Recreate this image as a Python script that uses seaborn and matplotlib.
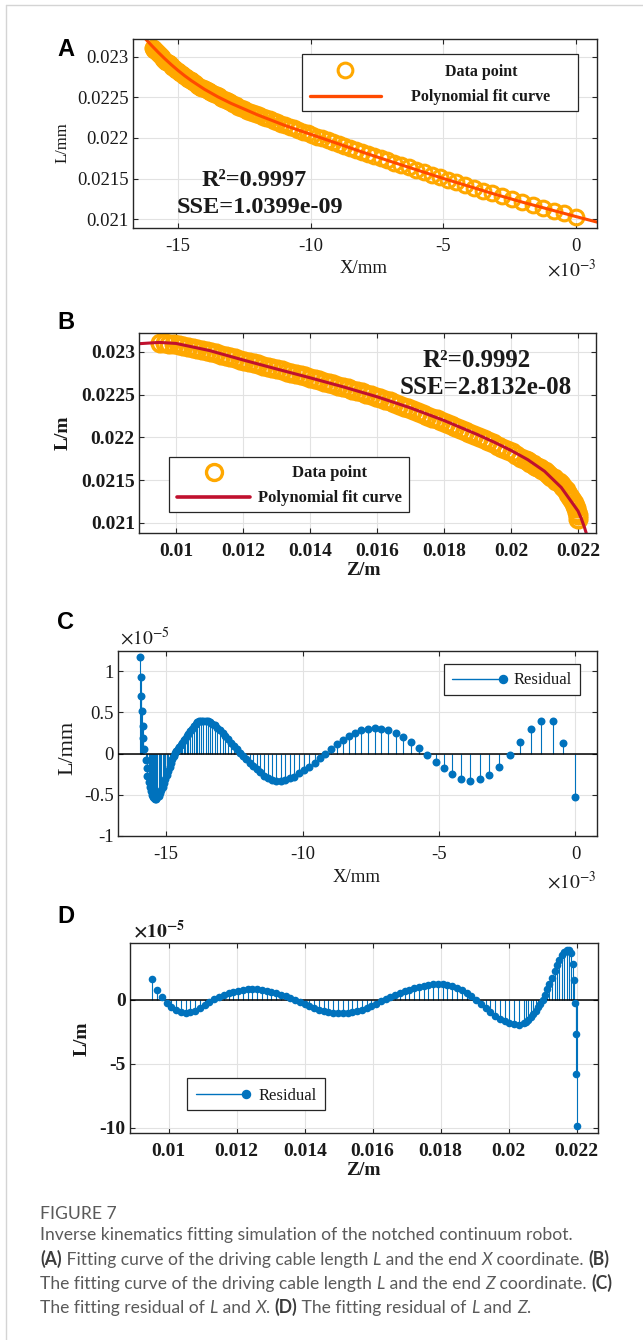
import matplotlib
matplotlib.use("Agg")
import matplotlib.pyplot as plt
from matplotlib.patches import Rectangle
from matplotlib.lines import Line2D
import seaborn as sns

sns.set_style("ticks")
plt.rcParams["font.family"] = ["Liberation Serif", "DejaVu Serif"]
plt.rcParams["mathtext.fontset"] = "stix"

# ---------------- data (X in 1e-3, residuals in 1e-5) ----------------
x_mm = [-15.95, -15.93, -15.91, -15.89, -15.86, -15.83, -15.79, -15.75, -15.71, -15.68,
        -15.64, -15.60, -15.56, -15.52, -15.48, -15.44, -15.40, -15.36, -15.32, -15.27,
        -15.22, -15.17, -15.12, -15.07, -15.02, -14.97, -14.92, -14.87, -14.82, -14.77,
        -14.72, -14.67, -14.62, -14.57, -14.52, -14.47, -14.42, -14.36, -14.30, -14.24,
        -14.18, -14.12, -14.06, -13.99, -13.92, -13.85, -13.78, -13.71, -13.63, -13.55,
        -13.47, -13.39, -13.30, -13.21, -13.12, -13.03, -12.93, -12.83, -12.73, -12.63,
        -12.52, -12.41, -12.30, -12.18, -12.06, -11.94, -11.81, -11.68, -11.54, -11.40,
        -11.26, -11.11, -10.96, -10.80, -10.64, -10.47, -10.30, -10.12, -9.94, -9.75,
        -9.56, -9.36, -9.16, -8.95, -8.74, -8.52, -8.30, -8.07, -7.84, -7.60,
        -7.36, -7.11, -6.86, -6.59, -6.31, -6.03, -5.73, -5.43, -5.12, -4.82,
        -4.51, -4.18, -3.85, -3.51, -3.15, -2.79, -2.41, -2.02, -1.64, -1.25,
        -0.84, -0.44, 0.00]
L_x = [0.023113, 0.023106, 0.023099, 0.023092, 0.023082, 0.023072, 0.023059, 0.023045, 0.023031, 0.023021,
       0.023008, 0.022994, 0.022980, 0.022967, 0.022954, 0.022943, 0.022932, 0.022921, 0.022910, 0.022896,
       0.022882, 0.022868, 0.022854, 0.022840, 0.022826, 0.022813, 0.022802, 0.022790, 0.022779, 0.022767,
       0.022756, 0.022744, 0.022733, 0.022721, 0.022710, 0.022698, 0.022687, 0.022673, 0.022659, 0.022645,
       0.022631, 0.022621, 0.022611, 0.022599, 0.022588, 0.022576, 0.022564, 0.022553, 0.022539, 0.022526,
       0.022513, 0.022499, 0.022484, 0.022469, 0.022454, 0.022439, 0.022422, 0.022405, 0.022388, 0.022372,
       0.022353, 0.022339, 0.022325, 0.022310, 0.022295, 0.022280, 0.022264, 0.022248, 0.022230, 0.022213,
       0.022195, 0.022176, 0.022155, 0.022137, 0.022119, 0.022100, 0.022080, 0.022059, 0.022039, 0.022017,
       0.021996, 0.021973, 0.021951, 0.021927, 0.021904, 0.021879, 0.021854, 0.021829, 0.021803, 0.021776,
       0.021750, 0.021724, 0.021697, 0.021668, 0.021639, 0.021609, 0.021577, 0.021546, 0.021513, 0.021482,
       0.021451, 0.021418, 0.021385, 0.021351, 0.021315, 0.021279, 0.021242, 0.021208, 0.021174, 0.021140,
       0.021104, 0.021069, 0.021030]
res_x = [1.17, 0.93, 0.70, 0.52, 0.33, 0.19, 0.06, -0.08, -0.18, -0.27,
         -0.35, -0.41, -0.46, -0.50, -0.53, -0.54, -0.55, -0.55, -0.53, -0.51,
         -0.48, -0.44, -0.40, -0.36, -0.31, -0.26, -0.21, -0.16, -0.11, -0.07,
         -0.03, 0.01, 0.03, 0.05, 0.08, 0.10, 0.13, 0.16, 0.18, 0.21,
         0.24, 0.27, 0.30, 0.33, 0.36, 0.38, 0.39, 0.40, 0.40, 0.40,
         0.39, 0.38, 0.36, 0.34, 0.31, 0.28, 0.25, 0.21, 0.17, 0.13,
         0.09, 0.05, 0.01, -0.03, -0.07, -0.11, -0.15, -0.19, -0.23, -0.27,
         -0.30, -0.32, -0.33, -0.33, -0.32, -0.30, -0.28, -0.24, -0.20, -0.16,
         -0.11, -0.06, -0.01, 0.05, 0.11, 0.16, 0.21, 0.25, 0.28, 0.30,
         0.31, 0.30, 0.28, 0.25, 0.20, 0.14, 0.07, -0.02, -0.10, -0.18,
         -0.25, -0.31, -0.33, -0.31, -0.26, -0.16, -0.02, 0.14, 0.30, 0.40,
         0.39, 0.13, -0.53]
fit_x = [-16.22, -16.0, -15.75, -15.5, -15.25, -15.0, -14.75, -14.5, -14.0, -13.5,
         -13.0, -12.0, -11.0, -10.0, -9.0, -8.0, -7.0, -6.0, -5.0, -4.0,
         -3.0, -2.0, -1.0, 0.0, 0.79]
fit_Lx = [0.023220, 0.023142, 0.023058, 0.022978, 0.022903, 0.022833, 0.022768, 0.022708, 0.022600, 0.022508,
          0.022427, 0.022285, 0.022158, 0.022045, 0.021933, 0.021820, 0.021712, 0.021606, 0.021500, 0.021400,
          0.021300, 0.021206, 0.021118, 0.021030, 0.020962]

z_m = [0.00952, 0.00966, 0.00980, 0.00994, 0.01008, 0.01022, 0.01036, 0.01050, 0.01064, 0.01078,
       0.01092, 0.01106, 0.01120, 0.01134, 0.01148, 0.01162, 0.01176, 0.01190, 0.01204, 0.01218,
       0.01232, 0.01246, 0.01260, 0.01274, 0.01288, 0.01302, 0.01316, 0.01330, 0.01344, 0.01358,
       0.01372, 0.01386, 0.01400, 0.01414, 0.01428, 0.01442, 0.01456, 0.01470, 0.01484, 0.01498,
       0.01512, 0.01526, 0.01540, 0.01554, 0.01568, 0.01582, 0.01596, 0.01610, 0.01624, 0.01638,
       0.01652, 0.01666, 0.01680, 0.01694, 0.01708, 0.01722, 0.01736, 0.01750, 0.01764, 0.01778,
       0.01792, 0.01806, 0.01820, 0.01834, 0.01848, 0.01862, 0.01876, 0.01890, 0.01904, 0.01918,
       0.01932, 0.01946, 0.01960, 0.01974, 0.01988, 0.02002, 0.02016, 0.02030, 0.02044, 0.02051,
       0.02058, 0.02065, 0.02072, 0.02079, 0.02086, 0.02093, 0.02100, 0.02107, 0.02114, 0.02120,
       0.02127, 0.02135, 0.02142, 0.02149, 0.02156, 0.02163, 0.02171, 0.02177, 0.02183, 0.02188,
       0.02192, 0.02194, 0.02197, 0.02199, 0.02200]
L_z = [0.023100, 0.023098, 0.023094, 0.023088, 0.023080, 0.023070, 0.023059, 0.023047, 0.023034, 0.023020,
       0.023008, 0.022995, 0.022981, 0.022967, 0.022953, 0.022938, 0.022924, 0.022910, 0.022896, 0.022882,
       0.022868, 0.022854, 0.022840, 0.022826, 0.022812, 0.022798, 0.022784, 0.022770, 0.022756, 0.022742,
       0.022727, 0.022712, 0.022697, 0.022682, 0.022667, 0.022652, 0.022637, 0.022621, 0.022606, 0.022590,
       0.022574, 0.022558, 0.022542, 0.022526, 0.022510, 0.022493, 0.022476, 0.022459, 0.022440, 0.022420,
       0.022400, 0.022380, 0.022360, 0.022339, 0.022318, 0.022297, 0.022275, 0.022254, 0.022232, 0.022210,
       0.022188, 0.022166, 0.022143, 0.022120, 0.022097, 0.022074, 0.022051, 0.022027, 0.022003, 0.021979,
       0.021954, 0.021929, 0.021904, 0.021878, 0.021853, 0.021826, 0.021794, 0.021764, 0.021735, 0.021720,
       0.021703, 0.021686, 0.021670, 0.021653, 0.021637, 0.021621, 0.021605, 0.021582, 0.021561, 0.021542,
       0.021521, 0.021495, 0.021474, 0.021450, 0.021417, 0.021382, 0.021339, 0.021306, 0.021271, 0.021234,
       0.021200, 0.021171, 0.021130, 0.021088, 0.021042]
res_z = [1.63, 0.80, 0.20, -0.25, -0.58, -0.82, -0.96, -1.00, -0.96, -0.84,
         -0.65, -0.41, -0.13, 0.08, 0.24, 0.39, 0.52, 0.64, 0.73, 0.80,
         0.83, 0.84, 0.82, 0.78, 0.71, 0.63, 0.53, 0.41, 0.29, 0.15,
         0.01, -0.16, -0.33, -0.49, -0.64, -0.76, -0.87, -0.96, -1.01, -1.05,
         -1.05, -1.02, -0.96, -0.87, -0.76, -0.62, -0.46, -0.29, -0.12, 0.06,
         0.22, 0.38, 0.53, 0.68, 0.81, 0.93, 1.03, 1.12, 1.18, 1.22,
         1.25, 1.24, 1.19, 1.09, 0.94, 0.75, 0.53, 0.28, 0.02, -0.31,
         -0.64, -0.95, -1.22, -1.46, -1.66, -1.80, -1.89, -1.92, -1.83, -1.71,
         -1.55, -1.36, -1.13, -0.87, -0.59, -0.30, 0.00, 0.40, 0.85, 1.25,
         1.75, 2.30, 2.75, 3.15, 3.50, 3.75, 3.90, 3.88, 3.68, 2.82,
         1.58, -0.21, -2.66, -5.79, -9.82]
fit_z = [0.00890, 0.00950, 0.01000, 0.01100, 0.01200, 0.01300, 0.01400, 0.01500, 0.01600, 0.01700,
         0.01800, 0.01900, 0.01950, 0.02000, 0.02050, 0.02100, 0.02150, 0.02200, 0.02210, 0.02220,
         0.02230]
fit_Lz = [0.023095, 0.023110, 0.023098, 0.023015, 0.022905, 0.022800, 0.022697, 0.022590, 0.022475, 0.022345,
          0.022198, 0.022033, 0.021944, 0.021848, 0.021740, 0.021605, 0.021415, 0.021140, 0.021050, 0.020940,
          0.020810]

x_ticks = [-15, -10, -5, 0]
x_labels = ["-15", "-10", "-5", "0"]
z_ticks = [0.010, 0.012, 0.014, 0.016, 0.018, 0.020, 0.022]
z_labels = ["0.01", "0.012", "0.014", "0.016", "0.018", "0.02", "0.022"]
L_ticks = [0.021, 0.0215, 0.022, 0.0225, 0.023]
L_labels = ["0.021", "0.0215", "0.022", "0.0225", "0.023"]
rx_ticks = [-1, -0.5, 0, 0.5, 1]
rx_labels = ["-1", "-0.5", "0", "0.5", "1"]
rz_ticks = [-10, -5, 0]
rz_labels = ["-10", "-5", "0"]

# ---------------- layout helpers (pixel coordinates) ----------------
W, H = 643, 1340
fig = plt.figure(figsize=(W / 100, H / 100), dpi=100)
fig.set_facecolor("white")

INK = "#1a1a1a"
ORANGE = "#FFA800"
BLUE = "#0072BD"


def axes_at(l, t, r, b):
    return fig.add_axes([l / W, 1 - b / H, (r - l) / W, (b - t) / H])


def ftext(x, y, s, **kw):
    kw.setdefault("color", INK)
    return fig.text(x / W, 1 - y / H, s, **kw)


def style(ax, xt, xl, yt, yl, bold, size):
    w = "bold" if bold else "normal"
    ax.set_xticks(xt, xl, fontweight=w, fontsize=size, color=INK)
    ax.set_yticks(yt, yl, fontweight=w, fontsize=size, color=INK)
    ax.grid(True, color="#e2e2e2", linewidth=0.8)
    ax.set_axisbelow(True)
    ax.tick_params(direction="in", length=3.5, width=0.8, top=True, right=True, color="#262626")
    ax.tick_params(axis="x", pad=7)
    ax.tick_params(axis="y", pad=3)
    for sp in ax.spines.values():
        sp.set_visible(True)
        sp.set_color("#262626")
        sp.set_linewidth(1.0)
    ax.set_xlabel("")
    ax.set_ylabel("")


def legend_box(l, t, r, b):
    fig.add_artist(Rectangle((l / W, 1 - b / H), (r - l) / W, (b - t) / H, transform=fig.transFigure,
                             facecolor="white", edgecolor="#262626", linewidth=0.9, zorder=5))


def legend_line(x0, x1, y, **kw):
    fig.add_artist(Line2D([x0 / W, x1 / W], [1 - y / H, 1 - y / H], transform=fig.transFigure, zorder=6, **kw))


def legend_marker(x, y, **kw):
    fig.add_artist(Line2D([x / W], [1 - y / H], transform=fig.transFigure, linestyle="", zorder=6, **kw))


# ---------------- A ----------------
ax = axes_at(133, 39, 597, 228)
sns.lineplot(x=x_mm, y=L_x, ax=ax, sort=False, estimator=None, linestyle="", marker="o",
             markersize=10.6, markerfacecolor="none", markeredgecolor=ORANGE, markeredgewidth=2.2, legend=False)
sns.lineplot(x=fit_x, y=fit_Lx, ax=ax, sort=False, estimator=None, color="#FF4A00", linewidth=2.2, legend=False)
style(ax, x_ticks, x_labels, L_ticks, L_labels, False, 13.5)
ax.set_xlim(-16.70, 0.79)
ax.set_ylim(0.020889, 0.023222)
ftext(63, 143, "L/mm", rotation=90, ha="center", va="center", fontsize=12)
ftext(364, 273, "X/mm", ha="center", va="baseline", fontsize=13.5)
ftext(596, 277, r"$\times10^{-3}$", ha="right", va="baseline", fontsize=14)
ftext(254, 186, "R²=0.9997", ha="center", va="baseline", fontsize=17.5, fontweight="bold")
ftext(260, 213, "SSE=1.0399e-09", ha="center", va="baseline", fontsize=17.5, fontweight="bold")
legend_box(302, 54, 578, 111)
legend_marker(345, 70, marker="o", markersize=10.6, markerfacecolor="none", markeredgecolor=ORANGE, markeredgewidth=2.2)
legend_line(310, 381, 96, color="#FF4A00", linewidth=2.4)
ftext(481, 76, "Data point", ha="center", va="baseline", fontsize=11.5, fontweight="bold", zorder=7)
ftext(481, 101, "Polynomial fit curve", ha="center", va="baseline", fontsize=11.5, fontweight="bold", zorder=7)

# ---------------- B ----------------
ax = axes_at(139, 333, 596, 533)
sns.lineplot(x=z_m, y=L_z, ax=ax, sort=False, estimator=None, linestyle="", marker="o",
             markersize=12, markerfacecolor="none", markeredgecolor=ORANGE, markeredgewidth=2.5, legend=False)
sns.lineplot(x=fit_z, y=fit_Lz, ax=ax, sort=False, estimator=None, color="#C0102E", linewidth=2.2, legend=False)
style(ax, z_ticks, z_labels, L_ticks, L_labels, True, 14)
ax.set_xlim(0.008896, 0.022537)
ax.set_ylim(0.020883, 0.02322)
ftext(63, 433, "L/m", rotation=90, ha="center", va="center", fontsize=14, fontweight="bold")
ftext(363, 575, "Z/m", ha="center", va="baseline", fontsize=14, fontweight="bold")
ftext(477, 367, "R²=0.9992", ha="center", va="baseline", fontsize=18, fontweight="bold")
ftext(486, 394, "SSE=2.8132e-08", ha="center", va="baseline", fontsize=18, fontweight="bold")
legend_box(169, 457, 409, 512)
legend_marker(214, 472, marker="o", markersize=11.5, markerfacecolor="none", markeredgecolor=ORANGE, markeredgewidth=2.4)
legend_line(177, 250, 497, color="#C0102E", linewidth=2.6)
ftext(329, 477, "Data point", ha="center", va="baseline", fontsize=12, fontweight="bold", zorder=7)
ftext(330, 502, "Polynomial fit curve", ha="center", va="baseline", fontsize=12, fontweight="bold", zorder=7)

# ---------------- C ----------------
ax = axes_at(118, 651, 597, 836)
ax.vlines(x_mm, 0, res_x, color=BLUE, linewidth=0.8, zorder=2)
ax.axhline(0, color="black", linewidth=1.1, zorder=3)
sns.scatterplot(x=x_mm, y=res_x, ax=ax, s=33, color=BLUE, linewidth=0, zorder=4, legend=False)
style(ax, x_ticks, x_labels, rx_ticks, rx_labels, False, 13.5)
ax.set_xlim(-16.76, 0.79)
ax.set_ylim(-1.0, 1.243)
ftext(68, 748, "L/mm", rotation=90, ha="center", va="center", fontsize=16)
ftext(357, 882, "X/mm", ha="center", va="baseline", fontsize=13.5)
ftext(596, 889, r"$\times10^{-3}$", ha="right", va="baseline", fontsize=14)
ftext(120, 645, r"$\times10^{-5}$", ha="left", va="baseline", fontsize=14)
legend_box(444, 664, 580, 695)
legend_line(452, 503, 679, color=BLUE, linewidth=1.0)
legend_marker(503, 679, marker="o", markersize=5.8, color=BLUE)
ftext(514, 684, "Residual", ha="left", va="baseline", fontsize=12, zorder=7)

# ---------------- D ----------------
ax = axes_at(130, 943, 598, 1133)
ax.vlines(z_m, 0, res_z, color=BLUE, linewidth=0.8, zorder=2)
ax.axhline(0, color="black", linewidth=1.1, zorder=3)
sns.scatterplot(x=z_m, y=res_z, ax=ax, s=30, color=BLUE, linewidth=0, zorder=4, legend=False)
style(ax, z_ticks, z_labels, rz_ticks, rz_labels, True, 14)
ax.set_xlim(0.008862, 0.022627)
ax.set_ylim(-10.4, 4.45)
ftext(82, 1039, "L/m", rotation=90, ha="center", va="center", fontsize=14, fontweight="bold")
ftext(363, 1175, "Z/m", ha="center", va="baseline", fontsize=14, fontweight="bold")
ftext(133, 937, r"$\mathbf{\times 10^{-5}}$", ha="left", va="baseline", fontsize=14)
legend_box(187, 1078, 325, 1110)
legend_line(196, 246, 1094, color=BLUE, linewidth=1.0)
legend_marker(246, 1094, marker="o", markersize=5.8, color=BLUE)
ftext(259, 1100, "Residual", ha="left", va="baseline", fontsize=12, zorder=7)

# ---------------- panel letters ----------------
for letter, top in [("A", 38), ("B", 311), ("C", 611), ("D", 905)]:
    ftext(57, top, letter, ha="left", va="top", fontsize=17, fontweight="bold", family="Liberation Sans",
          color="black")

# ---------------- caption ----------------
CAP = "Lato"
renderer = fig.canvas.get_renderer()


def cap_kw(style_, size):
    return dict(fontsize=size, family=CAP,
                fontweight="bold" if style_ == "b" else "normal",
                fontstyle="italic" if style_ == "i" else "normal",
                color="#3c3c3c" if style_ == "b" else "#5a5a5a")


def run_width(s, kw):
    t1 = fig.text(0, 0, "|" + s + "|", **kw)
    t2 = fig.text(0, 0, "||", **kw)
    w = t1.get_window_extent(renderer).width - t2.get_window_extent(renderer).width
    t1.remove()
    t2.remove()
    return w


caption = [
    (1219, [("FIGURE 7", "n")]),
    (1240, [("Inverse kinematics fitting simulation of the notched continuum robot.", "n")]),
    (1265, [("(A)", "b"), (" Fitting curve of the driving cable length ", "n"), ("L", "i"),
            (" and the end ", "n"), ("X", "i"), (" coordinate. ", "n"), ("(B)", "b")]),
    (1289, [("The fitting curve of the driving cable length ", "n"), ("L", "i"), (" and the end ", "n"),
            ("Z", "i"), (" coordinate. ", "n"), ("(C)", "b")]),
    (1313, [("The fitting residual of ", "n"), ("L", "i"), (" and ", "n"), ("X", "i"), (". ", "n"),
            ("(D)", "b"), (" The fitting residual of ", "n"), ("L", "i"), (" and ", "n"), ("Z", "i"), (".", "n")]),
]
# size chosen so the four text lines together span what they span in the figure (~2170 px)
total10 = sum(run_width(s, cap_kw(st, 10)) for _, runs in caption[1:] for s, st in runs)
cap_size = 10 * 2170 / total10

for y, runs in caption:
    x = 40
    for s, st in runs:
        kw = cap_kw(st, cap_size)
        fig.text(x / W, 1 - y / H, s, ha="left", va="baseline", **kw)
        x += run_width(s, kw)

# page frame
fig.add_artist(Line2D([6 / W, 6 / W], [0, 1 - 5 / H], transform=fig.transFigure, color="#d4d4d4", linewidth=1.0))
fig.add_artist(Line2D([6 / W, 1], [1 - 5 / H, 1 - 5 / H], transform=fig.transFigure, color="#d4d4d4", linewidth=1.0))

fig.savefig("out.png", dpi=100, facecolor="white")
